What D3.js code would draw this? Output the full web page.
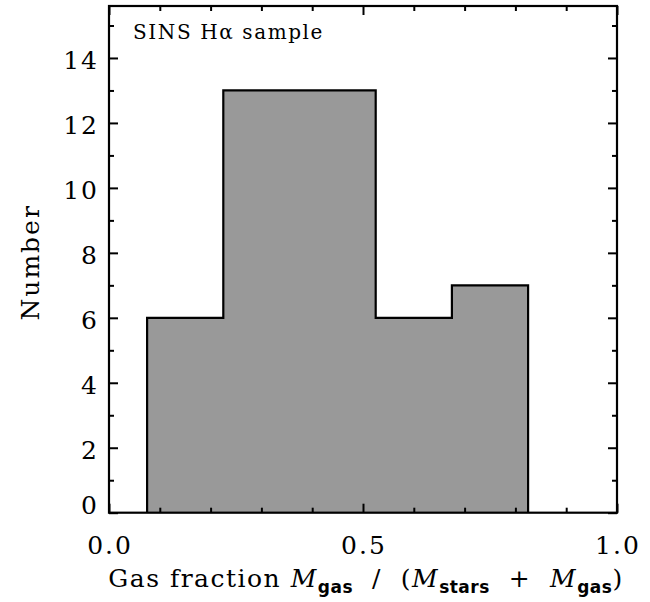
<!DOCTYPE html>
<html>
<head>
<meta charset="utf-8">
<script src="https://cdn.jsdelivr.net/npm/d3@7/dist/d3.min.js"></script>
<style>
  body { margin: 0; background: #fff; }
  text { font-family: "DejaVu Serif", serif; fill: #000; }
</style>
</head>
<body>
<div class="chart"></div>
<script>
// histogram of gas fractions
var binEdges = [0.075, 0.225, 0.375, 0.525, 0.675, 0.825];
var counts = [6, 13, 13, 6, 7];

var xMajor = [0.0, 0.5, 1.0];
var xMinor = [0.1, 0.2, 0.3, 0.4, 0.6, 0.7, 0.8, 0.9];
var yMajor = [0, 2, 4, 6, 8, 10, 12, 14];
var yMinor = [1, 3, 5, 7, 9, 11, 13, 15];

var margins = { top: 6, left: 109, right: 33, bottom: 89.3 };
var width = 650 - margins.left - margins.right;
var height = 602 - margins.top - margins.bottom;

var svg = d3.select('.chart')
    .append('svg')
    .attr('width', 650)
    .attr('height', 602);

var g = svg.append('g')
    .attr('transform', 'translate(' + margins.left + ',' + margins.top + ')');

var xScale = d3.scaleLinear().domain([0, 1]).range([0, width]);
var yScale = d3.scaleLinear().domain([0, 13 * 1.2]).range([height, 0]);

// step outline, closed down to zero at both ends
var pts = [{ x: binEdges[0], y: 0 }];
binEdges.forEach(function (e, i) {
    pts.push({ x: e, y: i < counts.length ? counts[i] : counts[counts.length - 1] });
});
pts.push({ x: binEdges[binEdges.length - 1], y: 0 });

var area = d3.area()
    .x(function (d) { return xScale(d.x); })
    .y0(yScale(0))
    .y1(function (d) { return yScale(d.y); })
    .curve(d3.curveStepAfter);

var line = d3.line()
    .x(function (d) { return xScale(d.x); })
    .y(function (d) { return yScale(d.y); })
    .curve(d3.curveStepAfter);

g.append('path')
    .attr('d', area(pts))
    .attr('fill', '#999999');

g.append('path')
    .attr('d', line(pts))
    .attr('fill', 'none')
    .attr('stroke', '#000')
    .attr('stroke-width', 2.2);

// box axes with inward ticks on all sides
function tickAxis(axisFn, scale, values, size) {
    return axisFn(scale).tickValues(values).tickSize(-size).tickFormat('');
}

var axes = [
    { a: tickAxis(d3.axisBottom, xScale, xMajor, 9), t: 'translate(0,' + height + ')' },
    { a: tickAxis(d3.axisBottom, xScale, xMinor, 5), t: 'translate(0,' + height + ')' },
    { a: tickAxis(d3.axisTop, xScale, xMajor, 9), t: 'translate(0,0)' },
    { a: tickAxis(d3.axisTop, xScale, xMinor, 5), t: 'translate(0,0)' },
    { a: tickAxis(d3.axisLeft, yScale, yMajor, 9), t: 'translate(0,0)' },
    { a: tickAxis(d3.axisLeft, yScale, yMinor, 5), t: 'translate(0,0)' },
    { a: tickAxis(d3.axisRight, yScale, yMajor, 9), t: 'translate(' + width + ',0)' },
    { a: tickAxis(d3.axisRight, yScale, yMinor, 5), t: 'translate(' + width + ',0)' }
];

axes.forEach(function (ax) {
    var sel = g.append('g').attr('transform', ax.t).call(ax.a);
    sel.selectAll('path.domain').remove();
    sel.selectAll('line').attr('stroke', '#000').attr('stroke-width', 2);
});

g.append('rect')
    .attr('width', width)
    .attr('height', height)
    .attr('fill', 'none')
    .attr('stroke', '#000')
    .attr('stroke-width', 2.2);

// tick labels
g.selectAll('.xlab')
    .data(xMajor)
    .enter()
    .append('text')
    .attr('x', function (d) { return xScale(d) + 1; })
    .attr('y', height + 41)
    .attr('text-anchor', 'middle')
    .attr('font-size', 25)
    .attr('letter-spacing', 2)
    .text(function (d) { return d.toFixed(1); });

g.selectAll('.ylab')
    .data(yMajor)
    .enter()
    .append('text')
    .attr('x', -10)
    .attr('y', function (d) { return yScale(d) + (d === 0 ? -8 : 2); })
    .attr('dy', '0.36em')
    .attr('text-anchor', 'end')
    .attr('font-size', 25)
    .attr('letter-spacing', 2)
    .text(function (d) { return d; });

// axis titles
svg.append('text')
    .attr('transform', 'translate(39,' + (margins.top + height / 2 + 3) + ') rotate(-90)')
    .attr('text-anchor', 'middle')
    .attr('font-size', 25)
    .attr('letter-spacing', 2)
    .text('Number');

var xt = svg.append('text')
    .attr('x', margins.left + width / 2 + 3)
    .attr('y', 587)
    .attr('text-anchor', 'middle')
    .attr('font-size', 25)
    .attr('letter-spacing', 1.5)
    .attr('xml:space', 'preserve');

function sub(s) {
    xt.append('tspan')
        .attr('dy', 6)
        .attr('font-family', '"DejaVu Sans", sans-serif')
        .attr('font-weight', 'bold')
        .attr('font-size', 17)
        .attr('letter-spacing', 0.5)
        .text(s);
}
function norm(s, back) {
    xt.append('tspan').attr('dy', back ? -6 : 0).text(s);
}
function ital(s, back) {
    xt.append('tspan').attr('dy', back ? -6 : 0).attr('font-style', 'italic').text(s);
}
norm('Gas fraction ');
ital('M');
sub('gas');
norm('  /  (', true);
ital('M');
sub('stars');
norm('  +  ', true);
ital('M');
sub('gas');
norm(')', true);

g.append('text')
    .attr('x', 24)
    .attr('y', 33)
    .attr('font-size', 20)
    .attr('letter-spacing', 1.6)
    .text('SINS H\u03b1 sample');
</script>
</body>
</html>
